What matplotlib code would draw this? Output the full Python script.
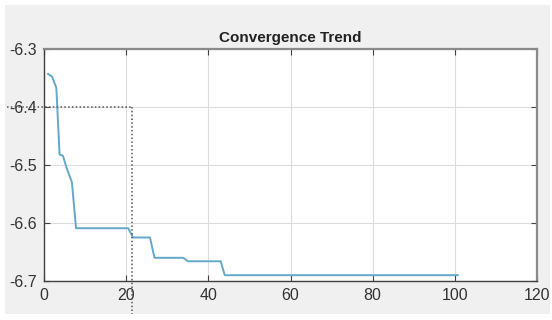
import matplotlib
matplotlib.use('Agg')
import matplotlib.pyplot as plt
from matplotlib.patches import Rectangle

# best fitness per iteration (step-like convergence curve)
iters = [1, 2, 3, 3.8, 4.6, 5.5, 6.8, 7.8, 20.5, 21.7, 25.8, 26.9, 33.9, 35.0, 43.0, 44.0, 100.7]
fitness = [-6.343, -6.348, -6.367, -6.482, -6.484, -6.505, -6.53, -6.609, -6.609, -6.625, -6.625,
           -6.66, -6.66, -6.666, -6.666, -6.69, -6.69]

# marker lines for the reference point
mark_x = 21.4
mark_y = -6.4

xticks = [0, 20, 40, 60, 80, 100, 120]
yticks = [-6.7, -6.6, -6.5, -6.4, -6.3]

plt.rcParams['font.family'] = ['Liberation Sans Narrow', 'Liberation Sans', 'DejaVu Sans']

fig = plt.figure(figsize=(5.52, 3.2), dpi=100, facecolor='white')
# grey panel behind the axes
fig.patches.append(Rectangle((5 / 552, 1 - 314 / 320), 545 / 552, 309 / 320,
                             transform=fig.transFigure, facecolor='#f0f0f0',
                             edgecolor='none', zorder=-10))

ax = fig.add_axes([44 / 552, 1 - 281 / 320, 493 / 552, 232 / 320])
ax.set_zorder(5)
ax.set_facecolor('white')
ax.plot(iters, fitness, color='#62a9c9', lw=1.4)

ax.set_xlim(0, 120)
ax.set_ylim(-6.7, -6.3)
ax.set_xticks(xticks)
ax.set_yticks(yticks)
ax.set_xticklabels([str(t) for t in xticks])
ax.set_yticklabels(['%.1f' % t for t in yticks])
ax.grid(True, color='#dcdcdc', lw=0.8)
ax.tick_params(direction='in', length=4, width=0.8, colors='#404040',
               labelsize=11.5, top=True, right=True, pad=5)
for lab in ax.get_xticklabels() + ax.get_yticklabels():
    lab.set_color('#333333')
for side in ['left', 'bottom']:
    ax.spines[side].set_color('#404040')
    ax.spines[side].set_linewidth(1.0)
for side in ['top', 'right']:
    ax.spines[side].set_color('#8a8a8a')
    ax.spines[side].set_linewidth(1.6)

# dotted guide lines, running past the axes edges
ax.plot([-9, mark_x], [mark_y, mark_y], color='#555555', lw=1.1, ls=(0, (1, 1.5)), clip_on=False)
ax.plot([mark_x, mark_x], [mark_y, -6.757], color='#555555', lw=1.1, ls=(0, (1, 1.5)), clip_on=False)

ax.set_title('Convergence Trend', fontsize=11, fontweight='bold', color='#222222', pad=5)

fig.savefig('out.png', dpi=100, facecolor='white')
